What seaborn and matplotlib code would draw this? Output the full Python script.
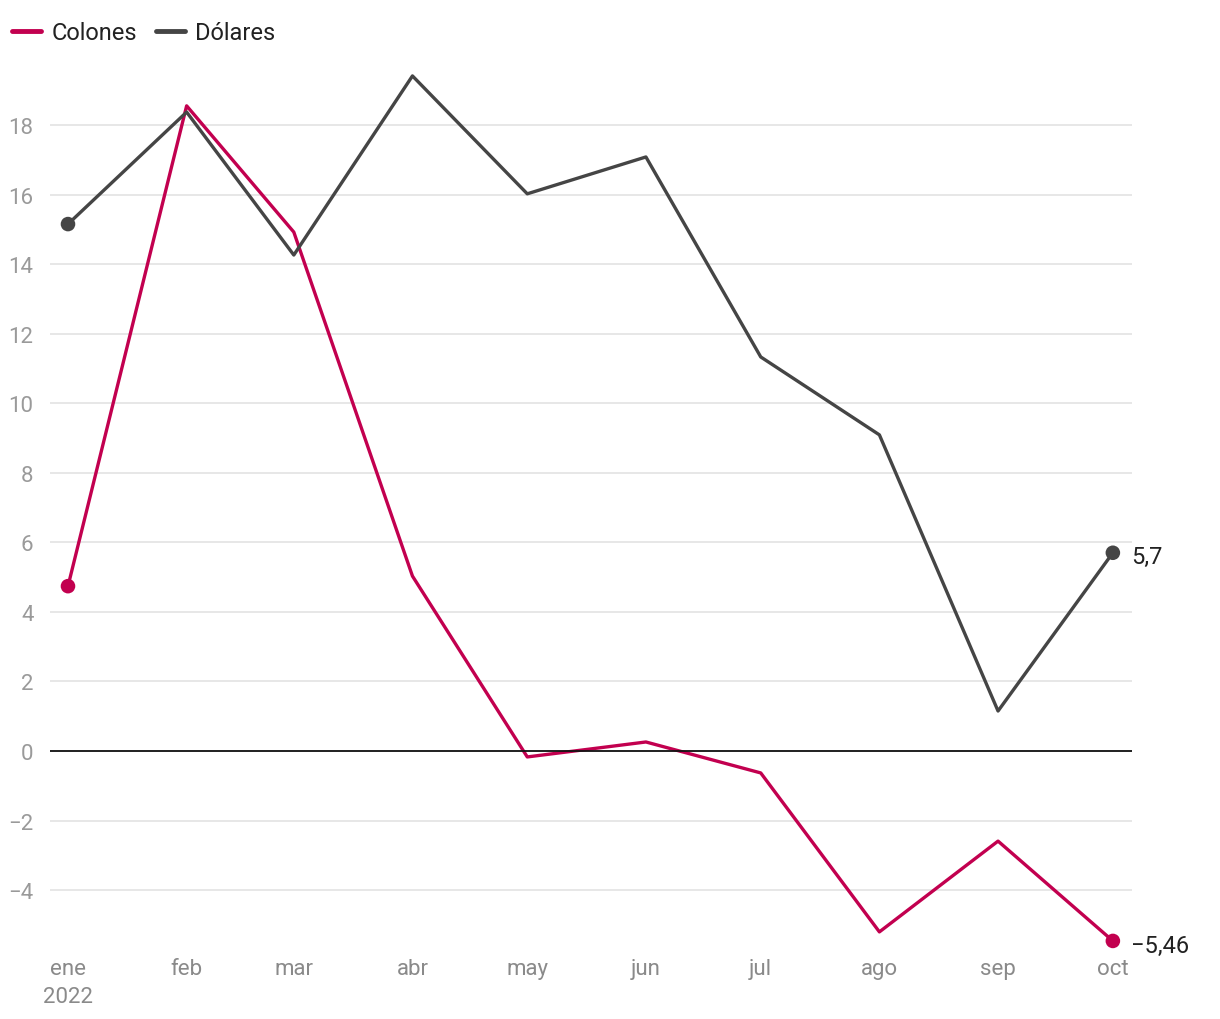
import matplotlib
matplotlib.use("Agg")
import matplotlib.pyplot as plt
import seaborn as sns
import pandas as pd

months = ["2022-01-01", "2022-02-01", "2022-03-01", "2022-04-01", "2022-05-01",
          "2022-06-01", "2022-07-01", "2022-08-01", "2022-09-01", "2022-10-01"]
month_labels = ["ene\n2022", "feb", "mar", "abr", "may", "jun", "jul", "ago", "sep", "oct"]
colones = [4.74, 18.55, 14.92, 5.03, -0.17, 0.26, -0.63, -5.2, -2.59, -5.46]
dolares = [15.15, 18.37, 14.26, 19.41, 16.02, 17.08, 11.33, 9.09, 1.15, 5.7]
y_ticks = [-4, -2, 0, 2, 4, 6, 8, 10, 12, 14, 16, 18]
series_names = ["Colones", "Dólares"]
end_labels = ["−5,46", "5,7"]

palette = {"Colones": "#c2004f", "Dólares": "#454545"}

dates = pd.to_datetime(months)
df = pd.concat([
    pd.DataFrame({"fecha": dates, "valor": colones, "serie": "Colones"}),
    pd.DataFrame({"fecha": dates, "valor": dolares, "serie": "Dólares"}),
], ignore_index=True)

sns.set_theme(style="white")
plt.rcParams["font.family"] = ["Roboto", "DejaVu Sans"]

fig = plt.figure(figsize=(12.2, 10.2), dpi=100)
top_px, bot_px = 70.3, 946.8
ax = fig.add_axes([50 / 1220, 1 - bot_px / 1020, (1132 - 50) / 1220, (bot_px - top_px) / 1020])

sns.lineplot(data=df, x="fecha", y="valor", hue="serie", palette=palette,
             hue_order=series_names, linewidth=2.4, ax=ax, legend=True)

ends = df[df["fecha"].isin([dates[0], dates[-1]])]
sns.scatterplot(data=ends, x="fecha", y="valor", hue="serie", palette=palette,
                hue_order=series_names, s=110, edgecolor="none", ax=ax, legend=False,
                zorder=5, clip_on=False)

ax.set_xlim(dates[0] - pd.Timedelta(days=4.7), dates[-1] + pd.Timedelta(days=5))
ax.set_ylim(-5.6, 19.6)

ax.set_yticks(y_ticks)
ax.set_yticklabels([f"{t}".replace("-", "−") for t in y_ticks])
ax.set_xticks(dates)
ax.set_xticklabels(month_labels, linespacing=1.45)

ax.grid(axis="y", color="#e3e3e3", linewidth=1.2)
ax.grid(axis="x", visible=False)
ax.axhline(0, color="#111111", linewidth=1.3, zorder=3)
for s in ax.spines.values():
    s.set_visible(False)
ax.tick_params(axis="y", length=0, pad=12, labelsize=16, labelcolor="#9a9a9a")
ax.tick_params(axis="x", length=0, pad=9, labelsize=16, labelcolor="#8a8a8a")
for lbl in ax.get_yticklabels():
    lbl.set_horizontalalignment("right")
ax.set_xlabel("")
ax.set_ylabel("")

last = dates[-1]
for name, val, txt in zip(series_names, [colones[-1], dolares[-1]], end_labels):
    ax.annotate(txt, xy=(last, val), xytext=(13, -3), textcoords="offset points",
                ha="left", va="center", fontsize=17, color="#222222",
                annotation_clip=False)

handles, labels = ax.get_legend_handles_labels()
leg = fig.legend(handles, labels, loc="upper left", bbox_to_anchor=(0.0, 0.99),
                 ncol=2, frameon=False, fontsize=17, handlelength=1.25,
                 handletextpad=0.42, columnspacing=0.8, borderaxespad=0.1)
for t in leg.get_texts():
    t.set_color("#222222")
for h in leg.legend_handles:
    h.set_linewidth(3.5)
if ax.get_legend():
    ax.get_legend().remove()

fig.savefig("out.png", dpi=100)
